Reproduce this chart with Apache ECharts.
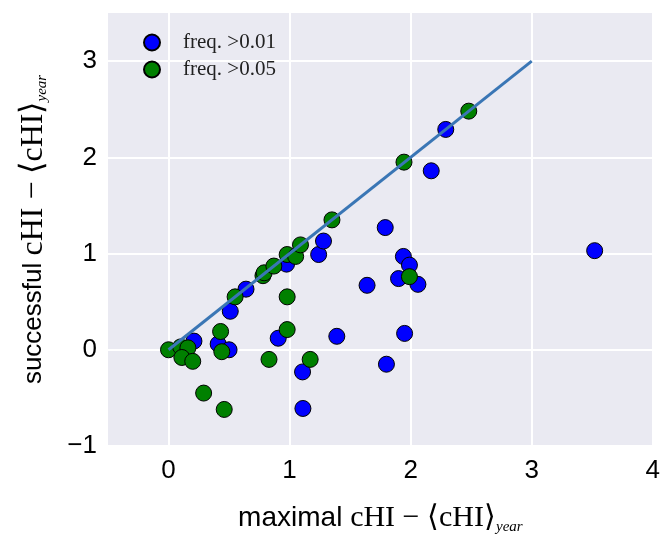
<!DOCTYPE html>
<html>
<head>
<meta charset="utf-8">
<script src="https://cdn.jsdelivr.net/npm/echarts@6/dist/echarts.min.js"></script>
<style>
  html, body { margin: 0; padding: 0; background: #fff; }
  #chart { width: 663px; height: 540px; }
</style>
</head>
<body>
<div id="chart"></div>
<script>
// freq. > 0.01
const blueX = [0.21, 0.41, 0.50, 0.51, 0.64, 0.975, 1.24, 1.28, 0.906, 1.107, 1.11, 1.39,
  1.79, 1.64, 1.94, 1.99, 1.90, 2.06, 1.95, 1.80, 2.17, 2.29, 3.52]
const blueY = [0.09, 0.06, 0.00, 0.40, 0.63, 0.89, 0.99, 1.13, 0.12, -0.23, -0.61, 0.14,
  1.27, 0.67, 0.97, 0.88, 0.74, 0.68, 0.17, -0.15, 1.86, 2.29, 1.03]
// freq. > 0.05
const greenX = [0.00, 0.10, 0.16, 0.11, 0.20, 0.43, 0.44, 0.29, 0.46, 0.55, 0.78, 0.79,
  0.87, 0.98, 1.05, 1.09, 0.98, 0.98, 0.83, 1.17, 1.35, 1.99, 1.945, 2.48]
const greenY = [0.00, 0.03, 0.02, -0.08, -0.12, 0.19, -0.02, -0.45, -0.62, 0.55, 0.77, 0.80,
  0.87, 0.99, 0.97, 1.09, 0.55, 0.21, -0.10, -0.10, 1.35, 0.76, 1.95, 2.48]
// diagonal y = x
const diagX = [0, 3]
const diagY = [0, 3]
// tick values
const xTicks = [0, 1, 2, 3, 4]
const yTicks = [-1, 0, 1, 2, 3]

const pairs = (xs, ys) => xs.map((x, i) => [x, ys[i]])
const minus = v => String(v).replace('-', '\u2212')

const chart = echarts.init(document.getElementById('chart'))

const titleRich = (sans, serif, sub) => ({
  s: { fontFamily: 'Liberation Sans', fontSize: sans, color: '#000' },
  m: { fontFamily: 'Liberation Serif', fontSize: serif, color: '#000' },
  sub: { fontFamily: 'Liberation Serif', fontStyle: 'italic', fontSize: sub, color: '#000', padding: [18, 0, 0, 0] }
})
const titleText = word => '{s|' + word + ' }{m|cHI \u2212 \u27E8cHI\u27E9}{sub|year}'

const option = {
  animation: false,
  grid: {
    left: 108, right: 9, top: 13, bottom: 91,
    show: true, backgroundColor: '#EAEAF2', borderWidth: 0
  },
  legend: {
    left: 138, top: 27,
    orient: 'vertical',
    itemWidth: 16, itemHeight: 16, itemGap: 6,
    textStyle: { fontFamily: 'Liberation Serif', fontSize: 21, color: '#222', padding: [0, 0, 0, 18] },
    data: [
      { name: 'freq. >0.01', icon: 'circle' },
      { name: 'freq. >0.05', icon: 'circle' }
    ]
  },
  xAxis: {
    type: 'value', min: -0.5, max: 4,
    axisLine: { show: false },
    axisTick: { show: false, customValues: xTicks },
    splitLine: { lineStyle: { color: '#fff', width: 2 } },
    axisLabel: {
      customValues: xTicks, margin: 12,
      fontFamily: 'Liberation Sans', fontSize: 26, color: '#000',
      formatter: minus
    },
    name: titleText('maximal'),
    nameLocation: 'middle', nameGap: 56,
    nameTextStyle: { rich: titleRich(28, 30, 15) }
  },
  yAxis: {
    type: 'value', min: -1, max: 3.5,
    axisLine: { show: false },
    axisTick: { show: false, customValues: yTicks },
    splitLine: { lineStyle: { color: '#fff', width: 2 } },
    axisLabel: {
      customValues: yTicks, margin: 11,
      fontFamily: 'Liberation Sans', fontSize: 26, color: '#000',
      formatter: minus
    },
    name: titleText('successful'),
    nameLocation: 'middle', nameGap: 58, nameRotate: 90,
    nameTextStyle: { rich: titleRich(26, 32, 15) }
  },
  series: [
    {
      name: 'freq. >0.01', type: 'scatter', symbolSize: 16, z: 2,
      itemStyle: { color: '#0000FF', borderColor: '#000', borderWidth: 1, opacity: 1 },
      data: pairs(blueX, blueY)
    },
    {
      name: 'freq. >0.05', type: 'scatter', symbolSize: 16, z: 3,
      itemStyle: { color: '#008000', borderColor: '#000', borderWidth: 1, opacity: 1 },
      data: pairs(greenX, greenY)
    },
    {
      type: 'line', z: 4, symbol: 'none',
      lineStyle: { color: '#3A76B5', width: 3 },
      data: pairs(diagX, diagY)
    }
  ]
}

chart.setOption(option)
</script>
</body>
</html>
